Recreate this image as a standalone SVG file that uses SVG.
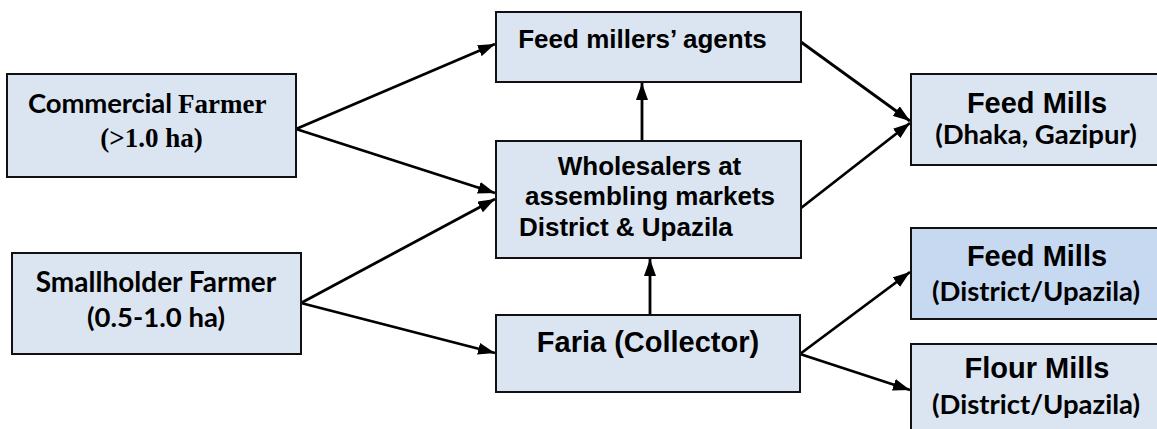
<svg xmlns="http://www.w3.org/2000/svg" width="1157" height="429" viewBox="0 0 1157 429">
  <defs>
    <marker id="arrow" viewBox="0 0 17 12" markerUnits="userSpaceOnUse" markerWidth="17" markerHeight="12" refX="17" refY="6" orient="auto">
      <path d="M0,0 L17,6 L0,12 Z" fill="#000"/>
    </marker>
    <style>
      .box { fill: #dbe5f1; stroke: #111; stroke-width: 2; }
      .box.alt { fill: #c6d9f1; }
      .sans { font-family: "Liberation Sans", Arial, sans-serif; font-weight: bold; fill: #000; }
      .cal { font-family: Lato, "Open Sans", sans-serif; font-weight: bold; fill: #000; }
      .serif { font-family: "Liberation Serif", "Times New Roman", serif; font-weight: bold; fill: #000; }
      .link { fill: none; stroke: #000; stroke-width: 2.8; marker-end: url(#arrow); }
    </style>
  </defs>
  <rect width="1157" height="429" fill="#fff"/>

  <g id="connectors">
    <line class="link" x1="296" y1="129" x2="495" y2="44"/>
    <line class="link" x1="296" y1="129" x2="495" y2="193"/>
    <line class="link" x1="301" y1="303" x2="495" y2="199"/>
    <line class="link" x1="301" y1="303" x2="495" y2="353"/>
    <line class="link" x1="642" y1="141" x2="642" y2="83"/>
    <line class="link" x1="650" y1="315" x2="650" y2="259"/>
    <line class="link" x1="801" y1="42" x2="910" y2="121"/>
    <line class="link" x1="801" y1="208" x2="910" y2="123"/>
    <line class="link" x1="800" y1="354" x2="910" y2="272"/>
    <line class="link" x1="800" y1="354" x2="910" y2="390"/>
  </g>

  <g id="commercial-farmer">
    <rect class="box" x="7" y="74" width="289" height="103"/>
    <text y="113" font-size="27.5"><tspan class="cal" x="28" textLength="144">Commercial</tspan><tspan class="serif" x="178" font-size="27">Farmer</tspan></text>
    <text class="serif" x="151.5" y="147" font-size="27" text-anchor="middle">(&gt;1.0 ha)</text>
  </g>

  <g id="smallholder-farmer">
    <rect class="box" x="12" y="253" width="289" height="101"/>
    <text class="cal" x="156" y="292" font-size="28" text-anchor="middle">Smallholder Farmer</text>
    <text class="cal" x="156" y="327" font-size="27.5" text-anchor="middle">(0.5-1.0 ha)</text>
  </g>

  <g id="feed-millers-agents">
    <rect class="box" x="496" y="12" width="305" height="70"/>
    <text class="sans" x="642.5" y="48" font-size="26" text-anchor="middle">Feed millers’ agents</text>
  </g>

  <g id="wholesalers">
    <rect class="box" x="496" y="141" width="305" height="117"/>
    <text class="sans" x="649.5" y="175" font-size="26" text-anchor="middle">Wholesalers at</text>
    <text class="sans" x="650" y="205" font-size="26" text-anchor="middle">assembling markets</text>
    <text class="sans" x="519" y="236" font-size="26">District &amp; Upazila</text>
  </g>

  <g id="faria-collector">
    <rect class="box" x="496" y="315" width="304" height="77"/>
    <text class="sans" x="648" y="352" font-size="29" text-anchor="middle">Faria (Collector)</text>
  </g>

  <g id="feed-mills-dhaka">
    <rect class="box" x="911" y="74" width="250" height="91"/>
    <text class="sans" x="1037" y="113" font-size="29" text-anchor="middle">Feed Mills</text>
    <text class="cal" x="1036" y="144" font-size="27.5" text-anchor="middle">(Dhaka, Gazipur)</text>
  </g>

  <g id="feed-mills-district">
    <rect class="box alt" x="911" y="228" width="250" height="91"/>
    <text class="sans" x="1037" y="266" font-size="29" text-anchor="middle">Feed Mills</text>
    <text class="cal" x="1036" y="301" font-size="27.5" text-anchor="middle">(District/Upazila)</text>
  </g>

  <g id="flour-mills-district">
    <rect class="box" x="911" y="344" width="250" height="100"/>
    <text class="sans" x="1037" y="378" font-size="29" text-anchor="middle">Flour Mills</text>
    <text class="cal" x="1036" y="414" font-size="27.5" text-anchor="middle">(District/Upazila)</text>
  </g>
</svg>
